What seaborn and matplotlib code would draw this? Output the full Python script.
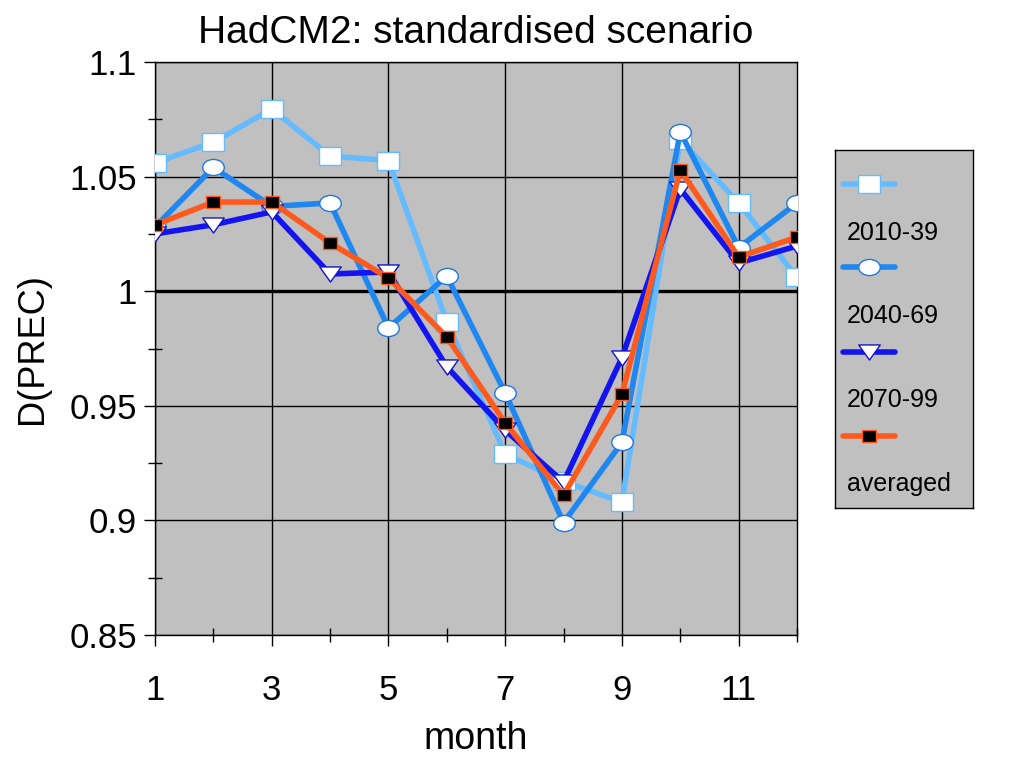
import numpy as np
import pandas as pd
import matplotlib
matplotlib.use("Agg")
import matplotlib.pyplot as plt
from matplotlib.path import Path
from matplotlib.lines import Line2D
import seaborn as sns

months = [1, 2, 3, 4, 5, 6, 7, 8, 9, 10, 11, 12]
s2010_39 = [1.056, 1.065, 1.0795, 1.059, 1.057, 0.9866, 0.929, 0.917, 0.908, 1.066, 1.0385, 1.006]
s2040_69 = [1.028, 1.054, 1.037, 1.0385, 0.984, 1.0066, 0.9556, 0.899, 0.934, 1.0695, 1.019, 1.0385]
s2070_99 = [1.025, 1.029, 1.0346, 1.0075, 1.0084, 0.967, 0.9394, 0.9167, 0.971, 1.0446, 1.0123, 1.0197]
averaged = [1.0289, 1.0389, 1.0389, 1.021, 1.0058, 0.980, 0.9425, 0.911, 0.955, 1.0529, 1.0149, 1.0236]
series_names = ["2010-39", "2040-69", "2070-99", "averaged"]
x_ticks = [1, 3, 5, 7, 9, 11]
y_ticks = [0.85, 0.9, 0.95, 1.0, 1.05, 1.1]
y_tick_labels = ["0.85", "0.9", "0.95", "1", "1.05", "1.1"]

sns.set_style("white")
plt.rcParams["font.family"] = ["Liberation Sans", "DejaVu Sans"]
plt.rcParams["text.color"] = "black"
plt.rcParams["axes.labelcolor"] = "black"
plt.rcParams["xtick.color"] = "black"
plt.rcParams["ytick.color"] = "black"

rect_marker = Path([(-1, -0.8), (1, -0.8), (1, 0.8), (-1, 0.8), (-1, -0.8)],
                   [Path.MOVETO, Path.LINETO, Path.LINETO, Path.LINETO, Path.CLOSEPOLY])
circ = Path.unit_circle()
ellipse_marker = Path(circ.vertices * np.array([1.0, 0.75]), circ.codes)
tri_marker = Path([(-1, 0.7), (1, 0.7), (0, -0.7), (-1, 0.7)],
                  [Path.MOVETO, Path.LINETO, Path.LINETO, Path.CLOSEPOLY])
small_rect = Path([(-1, -0.85), (1, -0.85), (1, 0.85), (-1, 0.85), (-1, -0.85)],
                  [Path.MOVETO, Path.LINETO, Path.LINETO, Path.LINETO, Path.CLOSEPOLY])

line_colors = ["#66BBFF", "#1E88F0", "#1414F0", "#FF5A1E"]
marker_shapes = [rect_marker, ellipse_marker, tri_marker, small_rect]
marker_sizes = [15.5, 15.5, 15.5, 10]
marker_faces = ["white", "white", "white", "black"]
marker_edges = ["#66BBFF", "#1E78E0", "#1414C8", "#FF5A1E"]
all_series = [s2010_39, s2040_69, s2070_99, averaged]

fig = plt.figure(figsize=(10.24, 7.68), dpi=100)
ax = fig.add_axes([155 / 1024, 1 - 635 / 768, (797 - 155) / 1024, (635 - 62) / 768])
ax.set_facecolor("#C0C0C0")

ax.axhline(1.0, color="black", linewidth=2.4, zorder=1.5)

for vals, c, m, ms, mf, me in zip(all_series, line_colors, marker_shapes, marker_sizes,
                                  marker_faces, marker_edges):
    sns.lineplot(x=months, y=vals, ax=ax, zorder=3, color=c, linewidth=4.0, marker=m,
                 markersize=ms, markerfacecolor=mf, markeredgecolor=me, markeredgewidth=1.0)

ax.set_xlim(1, 12)
ax.set_ylim(0.85, 1.1)
ax.set_xticks(x_ticks)
ax.set_xticklabels([str(t) for t in x_ticks])
ax.set_xticks([2, 4, 6, 8, 10, 12], minor=True)
ax.set_yticks(y_ticks)
ax.set_yticklabels(y_tick_labels)
ax.set_yticks([0.875, 0.925, 0.975, 1.025, 1.075], minor=True)
ax.grid(True, which="major", color="black", linewidth=1.0)
ax.set_axisbelow(True)
ax.tick_params(axis="both", which="both", bottom=True, left=True, top=False, right=False)
ax.tick_params(axis="both", which="major", direction="out", length=8, width=1,
               color="black", labelsize=25, labelcolor="black")
ax.tick_params(axis="x", which="major", pad=20)
ax.tick_params(axis="y", which="major", pad=5)
ax.tick_params(axis="both", which="minor", direction="inout", length=10, width=1, color="black")
for sp in ax.spines.values():
    sp.set_color("black")
    sp.set_linewidth(1.0)

ax.set_title("HadCM2: standardised scenario", fontsize=28, pad=14, color="black")
ax.set_xlabel("month", fontsize=27, labelpad=10, color="black")
ax.set_ylabel("D(PREC)", fontsize=26, labelpad=14, color="black")

# legend box
lax = fig.add_axes([835 / 1024, 1 - 508 / 768, 138 / 1024, 358 / 768])
lax.set_facecolor("#C0C0C0")
lax.set_xlim(0, 1)
lax.set_ylim(0, 1)
lax.set_xticks([])
lax.set_yticks([])
for sp in lax.spines.values():
    sp.set_color("black")
    sp.set_linewidth(1.0)
handle_y = [0.905, 0.673, 0.436, 0.201]
label_y = [0.768, 0.536, 0.302, 0.067]
for c, m, ms, mf, me, hy, ly, name in zip(line_colors, marker_shapes, marker_sizes, marker_faces,
                                          marker_edges, handle_y, label_y, series_names):
    lax.add_line(Line2D([0.058, 0.435], [hy, hy], color=c, linewidth=4.0))
    lax.plot([0.246], [hy], linestyle="none", marker=m, markersize=ms,
             markerfacecolor=mf, markeredgecolor=me, markeredgewidth=1.0)
    lax.text(0.087, ly, name, fontsize=18, va="center", ha="left", color="black")

fig.savefig("out.png", dpi=100, facecolor="white")
